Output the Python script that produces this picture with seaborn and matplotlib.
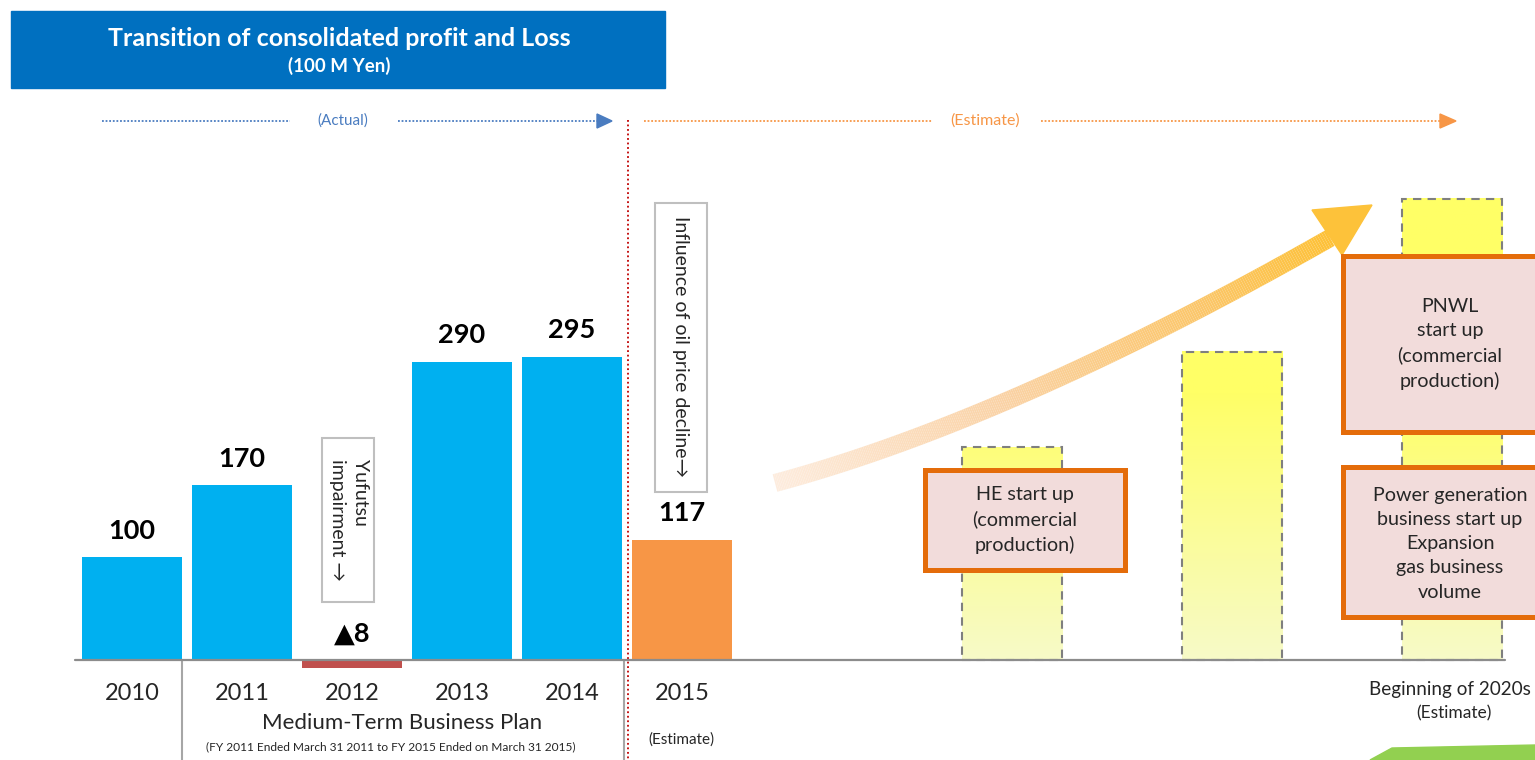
import numpy as np
import pandas as pd
import matplotlib
matplotlib.use("Agg")
import matplotlib.pyplot as plt
from matplotlib.patches import Rectangle, Polygon
from matplotlib.collections import LineCollection
import seaborn as sns

# === 1. Datos ===
years = ["2010", "2011", "2012", "2013", "2014", "2015"]
profit = [100, 170, -8, 290, 295, 117]
profit_labels = ["100", "170", "▲8", "290", "295", "117"]
kinds = ["actual", "actual", "loss", "actual", "actual", "estimate"]

future_slots = [8, 10, 12]
future_profit = [207, 300, 449]

palette = {"actual": "#00B0F0", "loss": "#C0504D", "estimate": "#F79646", "future": "#FFFF66"}

df = pd.DataFrame({
    "pos": list(range(len(years))) + future_slots,
    "value": profit + future_profit,
    "kind": kinds + ["future"] * len(future_slots),
})

# === 2. Escala (pixeles de la imagen -> datos) ===
W, H = 1535, 760
X0, SX = 132, 110      # centro de la primera barra, paso entre barras
Y0, SY = 660, 1.027    # linea base, pixeles por unidad


def dx(px):
    return (px - X0) / SX


def dy(py):
    return (Y0 - py) / SY


sns.set_style("white")
plt.rcParams["font.family"] = ["Lato", "DejaVu Sans"]

fig = plt.figure(figsize=(W / 100, H / 100), dpi=100)
ax = fig.add_axes([0, 0, 1, 1])

# === 3. Barras ===
sns.barplot(data=df, x="pos", y="value", hue="kind", palette=palette,
            native_scale=True, dodge=False, width=0.91, errorbar=None,
            legend=False, saturation=1, linewidth=0, ax=ax)

xlim = (dx(0), dx(W))
ylim = (dy(H), dy(0))

pale = np.array([247, 250, 200]) / 255
yellow = np.array([255, 255, 102]) / 255
for p in ax.patches:
    xc = p.get_x() + p.get_width() / 2
    if min(abs(xc - s) for s in future_slots) > 0.1:
        continue
    h = p.get_height()
    v = np.linspace(0, h, 256)
    t = np.clip(v / 260, 0, 1)[:, None]
    grad = (pale + t * (yellow - pale))[:, None, :]
    ax.imshow(grad, extent=(p.get_x(), p.get_x() + p.get_width(), 0, h),
              origin="lower", aspect="auto", zorder=1)
    p.set_facecolor("none")
    p.set_edgecolor("#7F7F7F")
    p.set_linestyle((0, (4, 3)))
    p.set_linewidth(1.5)
    p.set_zorder(2)

# valores sobre las barras
for i, (v, lab) in enumerate(zip(profit, profit_labels)):
    ax.text(i, max(v, 0) + 26, lab, ha="center", va="center",
            fontsize=19.5, fontweight="bold", color="black",
            family=["Lato", "DejaVu Sans"])

# linea base
ax.plot([dx(75), dx(1505)], [0, 0], color="#8C8C8C", lw=1.6, zorder=3)

# === 4. Etiquetas del eje ===
for i, y in enumerate(years):
    ax.text(i, dy(693), y, ha="center", va="center", fontsize=17)
ax.text(dx(681), dy(740), "(Estimate)", ha="center", va="center", fontsize=11)
ax.text(dx(402), dy(723), "Medium-Term Business Plan", ha="center", va="center", fontsize=16)
ax.text(dx(391), dy(747), "(FY 2011 Ended March 31 2011 to FY 2015 Ended on March 31 2015)",
        ha="center", va="center", fontsize=8.6)
ax.text(dx(1450), dy(690), "Beginning of 2020s", ha="center", va="center", fontsize=13.6)
ax.text(dx(1454), dy(713), "(Estimate)", ha="center", va="center", fontsize=12.5)

ax.plot([dx(182), dx(182)], [0, dy(H)], color="#A6A6A6", lw=1.5)
ax.plot([dx(624), dx(624)], [0, dy(H)], color="#A6A6A6", lw=1.5)
ax.plot([dx(628), dx(628)], [dy(120), dy(H)], color="#C00000", lw=1.3, ls=(0, (1, 1.5)))

# === 5. Titulo ===
ax.add_patch(Rectangle((dx(11), dy(88)), dx(665) - dx(11), dy(11) - dy(88),
                       color="#0070C0", zorder=4))
ax.text(dx(339), dy(38), "Transition of consolidated profit and Loss", ha="center",
        va="center", color="white", fontsize=18, fontweight="bold", zorder=5)
ax.text(dx(339), dy(66), "(100 M Yen)", ha="center", va="center", color="white",
        fontsize=13.5, fontweight="bold", zorder=5)

# === 6. Flechas Actual / Estimate ===
blue = "#4A7CC0"
orange = "#F79646"
ax.plot([dx(102), dx(290)], [dy(121)] * 2, color=blue, lw=1.3, ls=(0, (1, 1)))
ax.plot([dx(398), dx(598)], [dy(121)] * 2, color=blue, lw=1.3, ls=(0, (1, 1)))
ax.add_patch(Polygon([(dx(597), dy(114)), (dx(612), dy(121)), (dx(597), dy(128))], color=blue))
ax.text(dx(343), dy(121), "(Actual)", ha="center", va="center", color=blue, fontsize=11)
ax.plot([dx(644), dx(932)], [dy(121)] * 2, color=orange, lw=1.3, ls=(0, (1, 1)))
ax.plot([dx(1041), dx(1440)], [dy(121)] * 2, color=orange, lw=1.3, ls=(0, (1, 1)))
ax.add_patch(Polygon([(dx(1440), dy(114)), (dx(1456), dy(121)), (dx(1440), dy(128))], color=orange))
ax.text(dx(985), dy(121), "(Estimate)", ha="center", va="center", color=orange, fontsize=11.5)

# === 7. Cajas verticales ===
ax.add_patch(Rectangle((dx(322), dy(602)), dx(374) - dx(322), dy(438) - dy(602),
                       fill=False, edgecolor="#BFBFBF", lw=1.5))
ax.text(dx(349), dy(520), "Yufutsu\nimpairment →", rotation=270, ha="center", va="center",
        multialignment="left", fontsize=14, linespacing=1.4)
ax.add_patch(Rectangle((dx(655), dy(492)), dx(707) - dx(655), dy(203) - dy(492),
                       fill=False, edgecolor="#BFBFBF", lw=1.5))
ax.text(dx(681), dy(347), "Influence of oil price decline→", rotation=270, ha="center",
        va="center", fontsize=14)

# === 8. Flecha curva ===
P0, P1, P2 = np.array([775, 483]), np.array([1010, 420]), np.array([1330, 238])
t = np.linspace(0, 1, 300)[:, None]
curve = (1 - t) ** 2 * P0 + 2 * t * (1 - t) * P1 + t ** 2 * P2
pts = np.column_stack([dx(curve[:, 0]), dy(curve[:, 1])])
segs = np.stack([pts[:-1], pts[1:]], axis=1)
stops = np.array([0, 0.45, 0.8, 1.0])
stop_cols = np.array([[253, 236, 222], [250, 210, 165], [251, 198, 105], [253, 193, 55]]) / 255
tm = t[:-1, 0]
cols = np.column_stack([np.interp(tm, stops, stop_cols[:, k]) for k in range(3)])
ax.add_collection(LineCollection(segs, colors=cols, linewidths=13, capstyle="butt",
                                 joinstyle="round", zorder=3))
ax.add_patch(Polygon([(dx(1372), dy(205)), (dx(1312), dy(210)), (dx(1342), dy(255))],
                     color="#FDC23A", zorder=3))

# === 9. Cajas naranjas ===
boxes = [
    ((925, 470, 1125, 570), (1025, 520), "HE start up\n(commercial\nproduction)"),
    ((1343, 256, 1550, 432), (1450, 344), "PNWL\nstart up\n(commercial\nproduction)"),
    ((1343, 467, 1550, 617), (1450, 544), "Power generation\nbusiness start up\nExpansion\ngas business\nvolume"),
]
for (x1, y1, x2, y2), (tx, ty), txt in boxes:
    ax.add_patch(Rectangle((dx(x1), dy(y2)), dx(x2) - dx(x1), dy(y1) - dy(y2),
                           facecolor="#F2DCDB", edgecolor="#E46C0A", lw=3.6, zorder=4))
    ax.text(dx(tx), dy(ty), txt, ha="center", va="center", fontsize=14.2,
            linespacing=1.5, zorder=5)

# esquina verde
ax.add_patch(Polygon([(dx(1370), dy(760)), (dx(1392), dy(748)), (dx(1535), dy(745)),
                      (dx(1535), dy(760))], color="#92D050", zorder=4))

ax.set_xlim(xlim)
ax.set_ylim(ylim)
ax.axis("off")
fig.savefig("out.png", dpi=100)
